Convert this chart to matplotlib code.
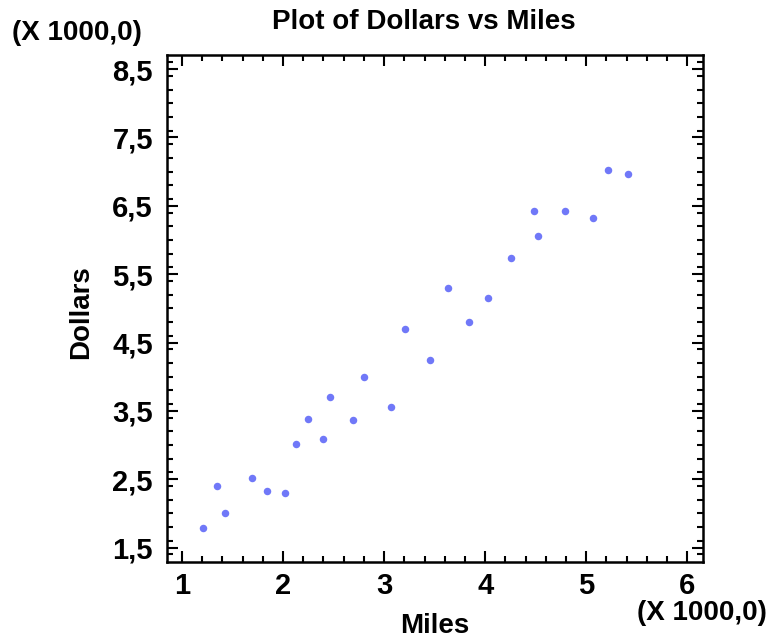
import numpy as np
import matplotlib
matplotlib.use('Agg')
from matplotlib import pyplot as plt
from matplotlib.ticker import MultipleLocator, FuncFormatter

plt.rcParams['font.family'] = ['Liberation Sans', 'DejaVu Sans']
plt.rcParams['font.weight'] = 'bold'

# miles and dollars
miles = [1213, 1348, 1424, 1694, 1846, 2021, 2127, 2251, 2394, 2469,
         2696, 2802, 3072, 3205, 3455, 3633, 3838, 4026, 4253, 4481,
         4523, 4793, 5070, 5219, 5416]
dollars = [1793, 2407, 2012, 2515, 2334, 2300, 3021, 3387, 3085, 3700,
           3372, 4001, 3558, 4694, 4249, 5293, 4801, 5152, 5736, 6424,
           6058, 6424, 6317, 7023, 6965]

title = 'Plot of Dollars vs Miles'
xlabel = 'Miles'
ylabel = 'Dollars'
mult = '(X 1000,0)'

def comma_fmt(v, pos):
  s = '%g' % round(v / 1000.0, 1)
  return s.replace('.', ',')

fig = plt.figure(figsize=(7.71, 6.38), dpi=100)
ax = fig.add_axes([0.2162, 0.1191, 0.6950, 0.7952])

ax.plot(miles, dollars, 'o', color='#7078f8', markersize=5.4, markeredgewidth=0)

ax.set_xlim(850, 6150)
ax.set_ylim(1290, 8710)
ax.xaxis.set_major_locator(MultipleLocator(1000))
ax.xaxis.set_minor_locator(MultipleLocator(200))
ax.yaxis.set_minor_locator(MultipleLocator(200))
ax.set_yticks(np.arange(1500, 8600, 1000))
ax.xaxis.set_major_formatter(FuncFormatter(comma_fmt))
ax.yaxis.set_major_formatter(FuncFormatter(comma_fmt))

ax.tick_params(which='both', direction='in', top=True, right=True, width=1.5)
ax.tick_params(which='major', length=8, labelsize=21, pad=10)
ax.tick_params(axis='x', which='major', pad=7)
ax.tick_params(which='minor', length=4)
for sp in ax.spines.values():
  sp.set_linewidth(1.8)

ax.set_xlabel(xlabel, fontsize=20, fontweight='bold', va='baseline')
ax.xaxis.set_label_coords(0.5, -0.14)
ax.set_ylabel(ylabel, fontsize=20, fontweight='bold', va='baseline')
ax.yaxis.set_label_coords(-0.146, 0.493)

fig.text(0.5499, 0.954, title, ha='center', va='baseline', fontsize=20, fontweight='bold')
fig.text(0.016, 0.9373, mult, ha='left', va='baseline', fontsize=20, fontweight='bold')
fig.text(0.995, 0.0282, mult, ha='right', va='baseline', fontsize=20, fontweight='bold')

fig.savefig('out.png', dpi=100)
